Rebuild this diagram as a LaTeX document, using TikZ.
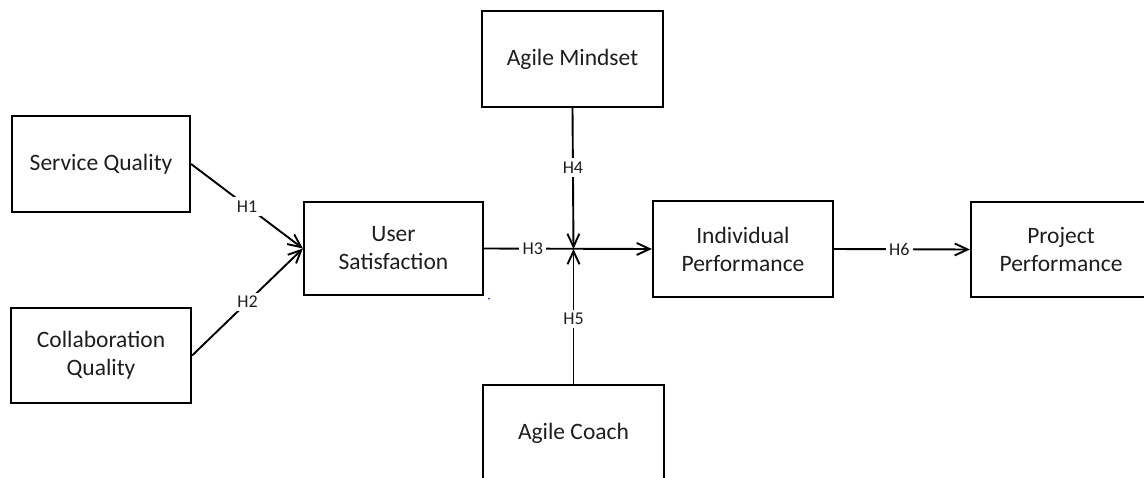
\documentclass[tikz,border=0pt]{standalone}
\usepackage{fontspec}
\setmainfont{Carlito}
\usetikzlibrary{arrows.meta}
\definecolor{txt}{HTML}{1E1E1E}
\tikzset{
  box/.style={draw=black, line width=2.2pt, fill=white, text=txt, align=center,
    inner sep=0pt, font=\fontsize{23.5}{28}\selectfont},
  link/.style={draw=black, line width=1.9pt,
    -{Straight Barb[length=13pt,width=12pt,line width=1.9pt]}},
  hyp/.style={fill=white, text=txt, inner sep=3.5pt, font=\fontsize{18}{21}\selectfont}
}
\begin{document}
\begin{tikzpicture}[x=1pt,y=-1pt]
  \clip (0,0) rectangle (1144,477);
  \fill[white] (0,0) rectangle (1144,477);

  % constructs
  \node[box, minimum width=178pt, minimum height=96pt] (sq) at (101,164) {Service Quality};
  \node[box, minimum width=180pt, minimum height=95pt] (cq) at (101,355.5) {Collaboration\\Quality};
  \node[box, minimum width=179pt, minimum height=93pt] (us) at (393.5,248.5) {User\\Satisfaction};
  \node[box, minimum width=181pt, minimum height=96pt] (am) at (572.5,59) {Agile Mindset};
  \node[box, minimum width=181pt, minimum height=96pt] (ac) at (573.5,433) {Agile Coach};
  \node[box, minimum width=180pt, minimum height=96pt] (ip) at (743,249) {Individual\\Performance};
  \node[box, minimum width=180pt, minimum height=95pt] (pp) at (1061,249.5) {Project\\Performance};

  % moderating junction on the H3 path
  \coordinate (j) at (573.5,249);

  % hypothesised paths
  \draw[link] (sq.east) -- node[hyp] {H1} (us.west);
  \draw[link] (cq.east) -- node[hyp] {H2} (us.west);
  \draw[link] (us.east) -- node[hyp, pos=0.29] {H3} (ip.west);
  \draw[link] (am.south) -- node[hyp, pos=0.42] {H4} (j);
  \draw[link] (ac.north) -- node[hyp, pos=0.48] {H5} (j);
  \draw[link] (ip.east) -- node[hyp, pos=0.48] {H6} (pp.west);

  % stray mark beside User Satisfaction
  \fill[blue!85] (489,298.5) circle (1pt);
\end{tikzpicture}
\end{document}
